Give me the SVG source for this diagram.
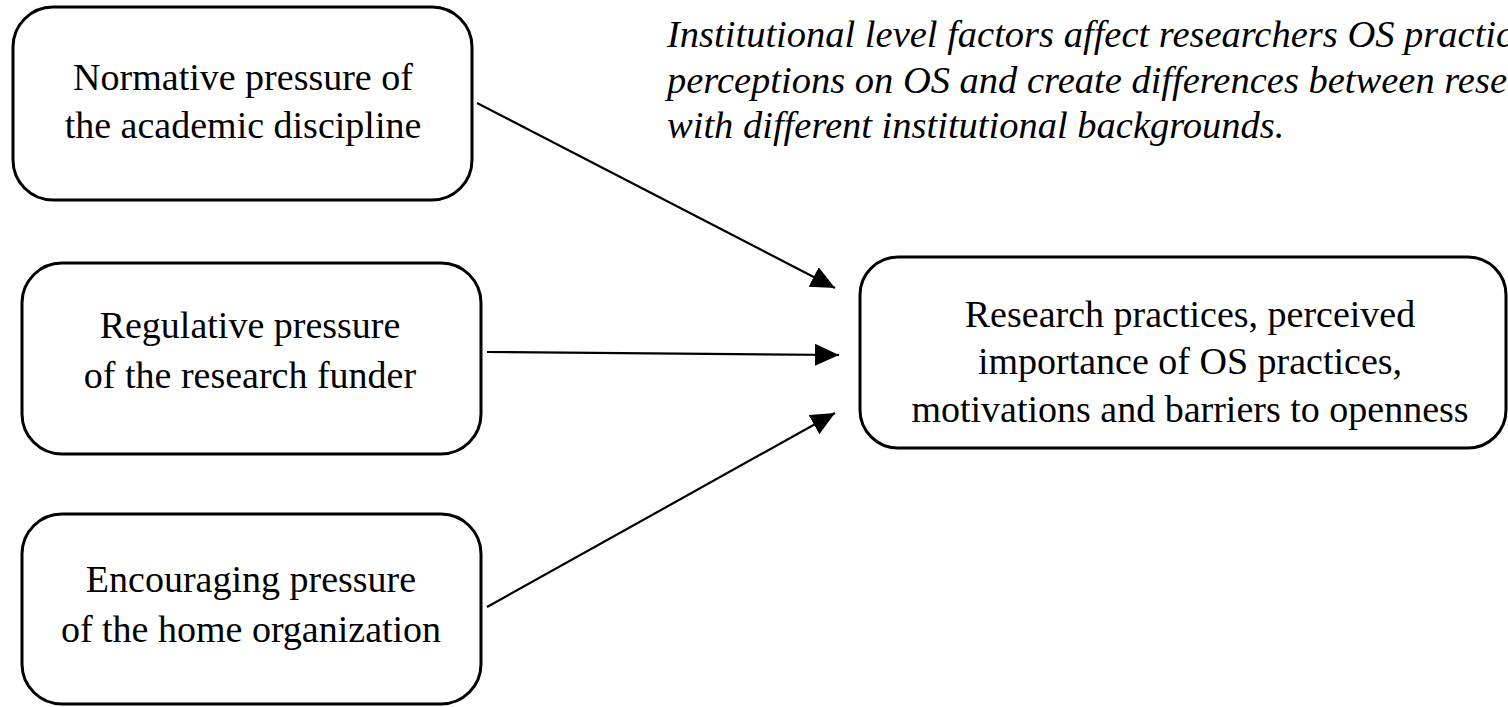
<svg xmlns="http://www.w3.org/2000/svg" width="1508" height="707" viewBox="0 0 1508 707">
  <style>
    .box { fill: #ffffff; stroke: #000000; stroke-width: 3; }
    .lbl { font-family: "Liberation Serif", "Times New Roman", serif; font-size: 38px; fill: #000000; text-anchor: middle; }
    .note { font-family: "Liberation Serif", "Times New Roman", serif; font-size: 38.5px; font-style: italic; fill: #000000; }
    .edge { stroke: #000000; stroke-width: 2.2; fill: none; marker-end: url(#arrow); }
  </style>
  <defs>
    <marker id="arrow" markerUnits="userSpaceOnUse" markerWidth="26" markerHeight="24" refX="24" refY="11" orient="auto">
      <path d="M0,0 L24,11 L0,22 Z" fill="#000000"/>
    </marker>
  </defs>
  <rect width="1508" height="707" fill="#ffffff"/>

  <!-- italic caption, running off the right edge -->
  <g id="note">
    <text class="note" x="667" y="47">Institutional level factors affect researchers OS practices</text>
    <text class="note" x="667" y="93">perceptions on OS and create differences between researchers</text>
    <text class="note" x="667" y="138">with different institutional backgrounds.</text>
  </g>

  <g id="node-normative">
    <rect class="box" x="13" y="7" width="459" height="193" rx="40" ry="40"/>
    <text class="lbl" x="243" y="90">Normative pressure of</text>
    <text class="lbl" x="243" y="138">the academic discipline</text>
  </g>

  <g id="node-regulative">
    <rect class="box" x="22" y="263" width="459" height="191" rx="40" ry="40"/>
    <text class="lbl" x="250" y="338">Regulative pressure</text>
    <text class="lbl" x="250" y="388">of the research funder</text>
  </g>

  <g id="node-encouraging">
    <rect class="box" x="22" y="514" width="459" height="190" rx="40" ry="40"/>
    <text class="lbl" x="251" y="592">Encouraging pressure</text>
    <text class="lbl" x="251" y="642">of the home organization</text>
  </g>

  <g id="node-outcome">
    <rect class="box" x="860" y="257" width="646" height="191" rx="38" ry="38"/>
    <text class="lbl" x="1190" y="327">Research practices, perceived</text>
    <text class="lbl" x="1190" y="374">importance of OS practices,</text>
    <text class="lbl" x="1190" y="422">motivations and barriers to openness</text>
  </g>

  <g id="connectors">
    <line class="edge" x1="477" y1="103" x2="835" y2="288"/>
    <line class="edge" x1="487" y1="352" x2="839" y2="355"/>
    <line class="edge" x1="487" y1="607" x2="835" y2="413"/>
  </g>
</svg>
